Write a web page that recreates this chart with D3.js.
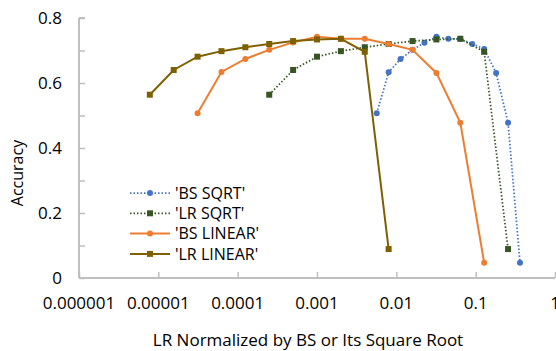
<!DOCTYPE html>
<html>
<head>
<meta charset="utf-8">
<script src="https://cdn.jsdelivr.net/npm/d3@7"></script>
<style>
  body { margin: 0; background: #fff; }
  text { font-family: "Open Sans", sans-serif; fill: #000; }
</style>
</head>
<body>
<div id="chart"></div>
<script>
// Series data (x = normalized learning rate, y = accuracy)
const bsSqrtX = [0.00566, 0.008, 0.0113, 0.016, 0.0226, 0.032, 0.0453, 0.064, 0.0905, 0.128, 0.181, 0.256, 0.362];
const bsSqrtY = [0.507, 0.633, 0.674, 0.702, 0.724, 0.742, 0.736, 0.736, 0.720, 0.705, 0.631, 0.478, 0.047];

const lrSqrtX = [0.00025, 0.0005, 0.001, 0.002, 0.004, 0.008, 0.016, 0.032, 0.064, 0.128, 0.256];
const lrSqrtY = [0.564, 0.640, 0.681, 0.698, 0.710, 0.720, 0.729, 0.734, 0.736, 0.696, 0.089];

const bsLinearX = [0.00003125, 0.0000625, 0.000125, 0.00025, 0.0005, 0.001, 0.002, 0.004, 0.008, 0.016, 0.032, 0.064, 0.128];
const bsLinearY = [0.507, 0.634, 0.674, 0.702, 0.725, 0.742, 0.736, 0.736, 0.720, 0.702, 0.631, 0.478, 0.047];

const lrLinearX = [0.0000078125, 0.000015625, 0.00003125, 0.0000625, 0.000125, 0.00025, 0.0005, 0.001, 0.002, 0.004, 0.008];
const lrLinearY = [0.564, 0.640, 0.681, 0.698, 0.710, 0.720, 0.729, 0.734, 0.736, 0.696, 0.089];

const xTicks = [0.000001, 0.00001, 0.0001, 0.001, 0.01, 0.1, 1];
const xTickLabels = ["0.000001", "0.00001", "0.0001", "0.001", "0.01", "0.1", "1"];
const yTicks = [0, 0.2, 0.4, 0.6, 0.8];
const yTickLabels = ["0", "0.2", "0.4", "0.6", "0.8"];

const seriesNames = ["'BS SQRT'", "'LR SQRT'", "'BS LINEAR'", "'LR LINEAR'"];

const width = 556, height = 351;

const series = [
  { name: seriesNames[0], xs: bsSqrtX, ys: bsSqrtY, color: "#4472c4", dotted: true, marker: "circle" },
  { name: seriesNames[1], xs: lrSqrtX, ys: lrSqrtY, color: "#375623", dotted: true, marker: "square" },
  { name: seriesNames[2], xs: bsLinearX, ys: bsLinearY, color: "#ed7d31", dotted: false, marker: "circle" },
  { name: seriesNames[3], xs: lrLinearX, ys: lrLinearY, color: "#7f6000", dotted: false, marker: "square" }
];

const svg = d3.select("#chart")
  .append("svg")
  .attr("width", width)
  .attr("height", height);

// Scales
const x = d3.scaleLog().domain([0.000001, 1]).range([79, 555]);
const y = d3.scaleLinear().domain([0, 0.8]).range([278, 18]);

// Y axis: line with inward minor ticks every 0.1
const yAxis = svg.append("g").attr("transform", `translate(${x(0.000001)},0)`)
  .call(d3.axisRight(y).tickValues(d3.range(0, 0.81, 0.1)).tickSize(6).tickFormat(""));
yAxis.select(".domain").attr("stroke", "#bfbfbf").attr("stroke-width", 2).attr("d", `M0,${y(0)}V${y(0.8)}M0,${y(0.8)}h6`);
yAxis.selectAll(".tick line").attr("stroke", "#bfbfbf").attr("stroke-width", 1.5);

svg.append("g").selectAll("text")
  .data(yTicks)
  .enter().append("text")
  .attr("x", 62)
  .attr("y", d => y(d))
  .attr("dy", "0.35em")
  .attr("text-anchor", "end")
  .style("font-size", "17px")
  .text((d, i) => yTickLabels[i]);

// X axis: line with inward ticks at each decade
const xAxis = svg.append("g").attr("transform", `translate(0,${y(0)})`)
  .call(d3.axisTop(x).tickValues(xTicks).tickSize(6).tickFormat(""));
xAxis.select(".domain").attr("stroke", "#bfbfbf").attr("stroke-width", 2).attr("d", `M${x(0.000001)},0H${x(1)}`);
xAxis.selectAll(".tick line").attr("stroke", "#bfbfbf").attr("stroke-width", 1.5);

svg.append("g").selectAll("text")
  .data(xTicks)
  .enter().append("text")
  .attr("x", d => x(d))
  .attr("y", 309)
  .attr("text-anchor", "middle")
  .style("font-size", "17px")
  .text((d, i) => xTickLabels[i]);

// Axis titles
svg.append("text")
  .attr("transform", "translate(23,173) rotate(-90)")
  .attr("text-anchor", "middle")
  .style("font-size", "16px")
  .text("Accuracy");

svg.append("text")
  .attr("x", 308)
  .attr("y", 346)
  .attr("text-anchor", "middle")
  .style("font-size", "17px")
  .text("LR Normalized by BS or Its Square Root");

// Lines and markers
const line = d3.line().x(d => x(d[0])).y(d => y(d[1]));

function drawMarker(g, s, cx, cy) {
  if (s.marker === "circle") {
    g.append("circle").attr("cx", cx).attr("cy", cy).attr("r", 3).attr("fill", s.color);
  } else {
    g.append("rect").attr("x", cx - 3).attr("y", cy - 3).attr("width", 6).attr("height", 6).attr("fill", s.color);
  }
}

series.forEach(s => {
  const pts = s.xs.map((v, i) => [v, s.ys[i]]);
  const g = svg.append("g");
  g.append("path")
    .datum(pts)
    .attr("fill", "none")
    .attr("stroke", s.color)
    .attr("stroke-width", s.dotted ? 1.75 : 2)
    .attr("stroke-dasharray", s.dotted ? "1.5,2" : null)
    .attr("d", line);
  pts.forEach(p => drawMarker(g, s, x(p[0]), y(p[1])));
});

// Legend
const legend = svg.append("g");
series.forEach((s, i) => {
  const ly = 193 + i * 20.3;
  const g = legend.append("g");
  g.append("line")
    .attr("x1", 130).attr("x2", 170)
    .attr("y1", ly).attr("y2", ly)
    .attr("stroke", s.color)
    .attr("stroke-width", s.dotted ? 1.75 : 2)
    .attr("stroke-dasharray", s.dotted ? "1.5,2" : null);
  drawMarker(g, s, 150, ly);
  g.append("text")
    .attr("x", 175)
    .attr("y", ly)
    .attr("dy", "0.35em")
    .style("font-size", "16px")
    .text(s.name);
});
</script>
</body>
</html>
